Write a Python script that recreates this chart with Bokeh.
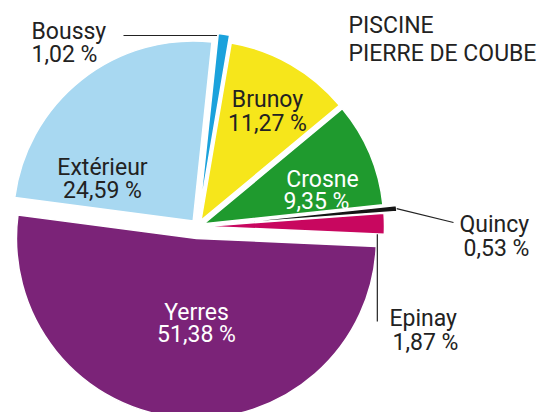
import math
from bokeh.plotting import figure
from bokeh.models import Range1d, ColumnDataSource
from bokeh.embed import file_html
from bokeh.resources import INLINE
from bokeh.core.properties import value

# ---------------- data ----------------
names = ["Boussy", "Brunoy", "Crosne", "Quincy", "Epinay", "Yerres", "Extérieur"]
shares = [1.02, 11.27, 9.35, 0.53, 1.87, 51.38, 24.59]
colors = ["#1ba2dc", "#f6e61b", "#1f9a2e", "#151515", "#c8075f", "#7b2378", "#a8d8f1"]
title_lines = ["PISCINE", "PIERRE DE COUBE"]

# ---------------- layout ----------------
W, H = 542, 412
FONT = "Roboto"
FS = "23px"
INK = "#222222"


def X(xi):  # image px -> data
    return xi


def Y(yi):
    return H - yi


CX, CY = X(197), Y(226)
R = 180
ROT = 6.0  # degrees, clockwise from 12 o'clock
explode = {"Quincy": 20, "Boussy": 14, "Yerres": 12}
BASE_EXPLODE = 7

p = figure(width=W, height=H, x_range=Range1d(0, W), y_range=Range1d(0, H),
           output_backend="svg", toolbar_location=None, min_border=0,
           x_axis_location=None, y_axis_location=None)
p.grid.visible = False
p.outline_line_color = None
p.background_fill_color = "white"
p.border_fill_color = "white"

total = sum(shares)
xs, ys, sa, ea, geo = [], [], [], [], {}
cum = 0.0
for n, s in zip(names, shares):
    th0 = ROT + cum / total * 360.0
    th1 = th0 + s / total * 360.0
    mid = (th0 + th1) / 2
    cum += s
    d = explode.get(n, BASE_EXPLODE)
    ax = CX + d * math.sin(math.radians(mid))
    ay = CY + d * math.cos(math.radians(mid))
    xs.append(ax)
    ys.append(ay)
    sa.append(math.radians(90 - th1))
    ea.append(math.radians(90 - th0))
    geo[n] = (ax, ay, th0, th1, mid)

src = ColumnDataSource(dict(x=xs, y=ys, start=sa, end=ea, color=colors, name=names))
p.wedge(x="x", y="y", radius=R, start_angle="start", end_angle="end",
        fill_color="color", line_color="white", line_width=1.5, source=src)


def pct(v):
    return f"{v:.2f}".replace(".", ",") + " %"


val = dict(zip(names, shares))

# labels: (name, x1, baseline1, x2, baseline2, align, color)
labels = [
    ("Boussy", 31, 31, 31, 54, "left", INK),
    ("Brunoy", 267, 99, 267, 123, "center", INK),
    ("Extérieur", 102, 167, 102, 190, "center", INK),
    ("Crosne", 322, 179, 316, 201, "center", "white"),
    ("Yerres", 196, 312, 196, 334, "center", "white"),
    ("Quincy", 459, 224, 463, 248, "left", INK),
    ("Epinay", 389, 318, 392, 342, "left", INK),
]
for n, x1, b1, x2, b2, al, col in labels:
    p.text(x=[X(x1), X(x2)], y=[Y(b1), Y(b2)], text=[n, pct(val[n])],
           text_font=value(FONT), text_font_size=FS, text_align=al,
           text_baseline="alphabetic", text_color=col)

p.text(x=[X(348), X(348)], y=[Y(25), Y(53)], text=title_lines,
       text_font=value(FONT), text_font_size=FS, text_align="left",
       text_baseline="alphabetic", text_color=INK)

# leader lines
ax, ay, th0, th1, mid = geo["Boussy"]
ly = Y(35)
t = (ly - ay) / math.cos(math.radians(th0))
bx = ax + t * math.sin(math.radians(th0))
p.line([X(123), bx - 1], [ly, ly], line_color=INK, line_width=1.2)

ax, ay, th0, th1, mid = geo["Quincy"]
qx = ax + R * math.sin(math.radians(mid))
qy = ay + R * math.cos(math.radians(mid))
p.line([qx, X(453)], [qy, Y(222)], line_color=INK, line_width=1.2)

ax, ay, th0, th1, mid = geo["Epinay"]
ex = ax + (R - 2) * math.sin(math.radians(th1))
ey = ay + (R - 2) * math.cos(math.radians(th1))
p.line([ex - 5, ex - 5], [ey, Y(321)], line_color=INK, line_width=1.2)

open("out.html", "w").write(file_html(p, INLINE))
